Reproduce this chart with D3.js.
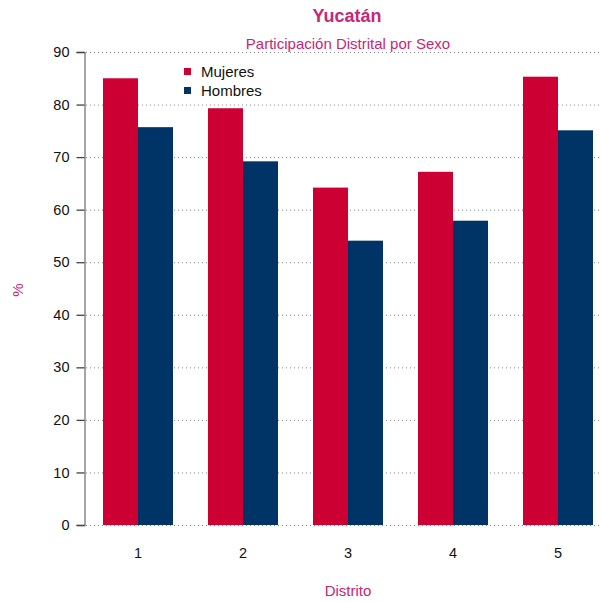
<!DOCTYPE html>
<html>
<head>
<meta charset="utf-8">
<script src="https://cdn.jsdelivr.net/npm/d3@7"></script>
<style>
  body { margin: 0; background: #fff; }
  text { font-family: "Liberation Sans", Arial, sans-serif; }
</style>
</head>
<body>
<div class="chart"></div>
<script>
const distritos = [1, 2, 3, 4, 5];
const mujeres = [85.0, 79.3, 64.2, 67.2, 85.3];
const hombres = [75.7, 69.2, 54.1, 57.9, 75.1];
const series = ['Mujeres', 'Hombres'];
const yTicks = [0, 10, 20, 30, 40, 50, 60, 70, 80, 90];

const colors = {Mujeres: '#cc0033', Hombres: '#003366'};
const titleColor = '#c8267a';

const W = 602, H = 602;
const svg = d3.select('.chart')
  .append('svg')
  .attr('width', W)
  .attr('height', H);

const xScale = d3.scaleBand()
  .domain(distritos)
  .range([85.5, 610.5])
  .paddingInner(1/3)
  .paddingOuter(1/6);

const xInner = d3.scaleBand()
  .domain(series)
  .range([0, xScale.bandwidth()]);

const yScale = d3.scaleLinear()
  .domain([0, 90])
  .range([525, 52]);

// dotted grid
svg.append('g')
  .selectAll('line')
  .data(yTicks)
  .enter()
  .append('line')
  .attr('x1', 86)
  .attr('x2', 599)
  .attr('y1', d => yScale(d) + 0.5)
  .attr('y2', d => yScale(d) + 0.5)
  .attr('stroke', '#888')
  .attr('stroke-width', 1)
  .attr('stroke-dasharray', '1,3');

const rows = distritos.map((d, i) => ({distrito: d, Mujeres: mujeres[i], Hombres: hombres[i]}));

const groups = svg.append('g')
  .selectAll('g')
  .data(rows)
  .enter()
  .append('g')
  .attr('transform', d => `translate(${xScale(d.distrito)},0)`);

groups.selectAll('rect')
  .data(d => series.map(s => ({key: s, value: d[s]})))
  .enter()
  .append('rect')
  .attr('x', d => xInner(d.key))
  .attr('y', d => yScale(d.value))
  .attr('width', xInner.bandwidth())
  .attr('height', d => yScale(0) - yScale(d.value))
  .attr('fill', d => colors[d.key]);

// y axis
const yAxis = d3.axisLeft(yScale)
  .tickValues(yTicks)
  .tickSize(8)
  .tickPadding(7);

const yg = svg.append('g')
  .attr('transform', 'translate(84.5,0)')
  .call(yAxis);
yg.select('.domain').attr('stroke', '#777').attr('stroke-width', 1.3);
yg.selectAll('.tick line').attr('stroke', '#444').attr('stroke-width', 1.3);
yg.selectAll('.tick text')
  .attr('font-size', 14.5)
  .attr('fill', '#111')
  .style('font-family', '"Liberation Sans", Arial, sans-serif');

// x labels
svg.append('g')
  .selectAll('text')
  .data(distritos)
  .enter()
  .append('text')
  .attr('x', d => xScale(d) + xScale.bandwidth() / 2)
  .attr('y', 558)
  .attr('text-anchor', 'middle')
  .attr('font-size', 14.5)
  .attr('fill', '#111')
  .text(d => d);

// titles
svg.append('text')
  .attr('x', 347)
  .attr('y', 22)
  .attr('text-anchor', 'middle')
  .attr('font-size', 18)
  .attr('font-weight', 'bold')
  .attr('fill', titleColor)
  .text('Yucatán');

svg.append('text')
  .attr('x', 348)
  .attr('y', 49)
  .attr('text-anchor', 'middle')
  .attr('font-size', 15)
  .attr('fill', titleColor)
  .text('Participación Distrital por Sexo');

svg.append('text')
  .attr('x', 348)
  .attr('y', 596)
  .attr('text-anchor', 'middle')
  .attr('font-size', 15)
  .attr('fill', titleColor)
  .text('Distrito');

svg.append('text')
  .attr('transform', 'translate(23,290) rotate(-90)')
  .attr('text-anchor', 'middle')
  .attr('font-size', 15)
  .attr('fill', titleColor)
  .text('%');

// legend
const legend = svg.append('g')
  .selectAll('g')
  .data(series)
  .enter()
  .append('g')
  .attr('transform', (d, i) => `translate(184,${68 + i * 19})`);

legend.append('rect')
  .attr('width', 7)
  .attr('height', 7)
  .attr('fill', d => colors[d]);

legend.append('text')
  .attr('x', 17)
  .attr('y', 9)
  .attr('font-size', 15)
  .attr('fill', '#111')
  .text(d => d);
</script>
</body>
</html>
